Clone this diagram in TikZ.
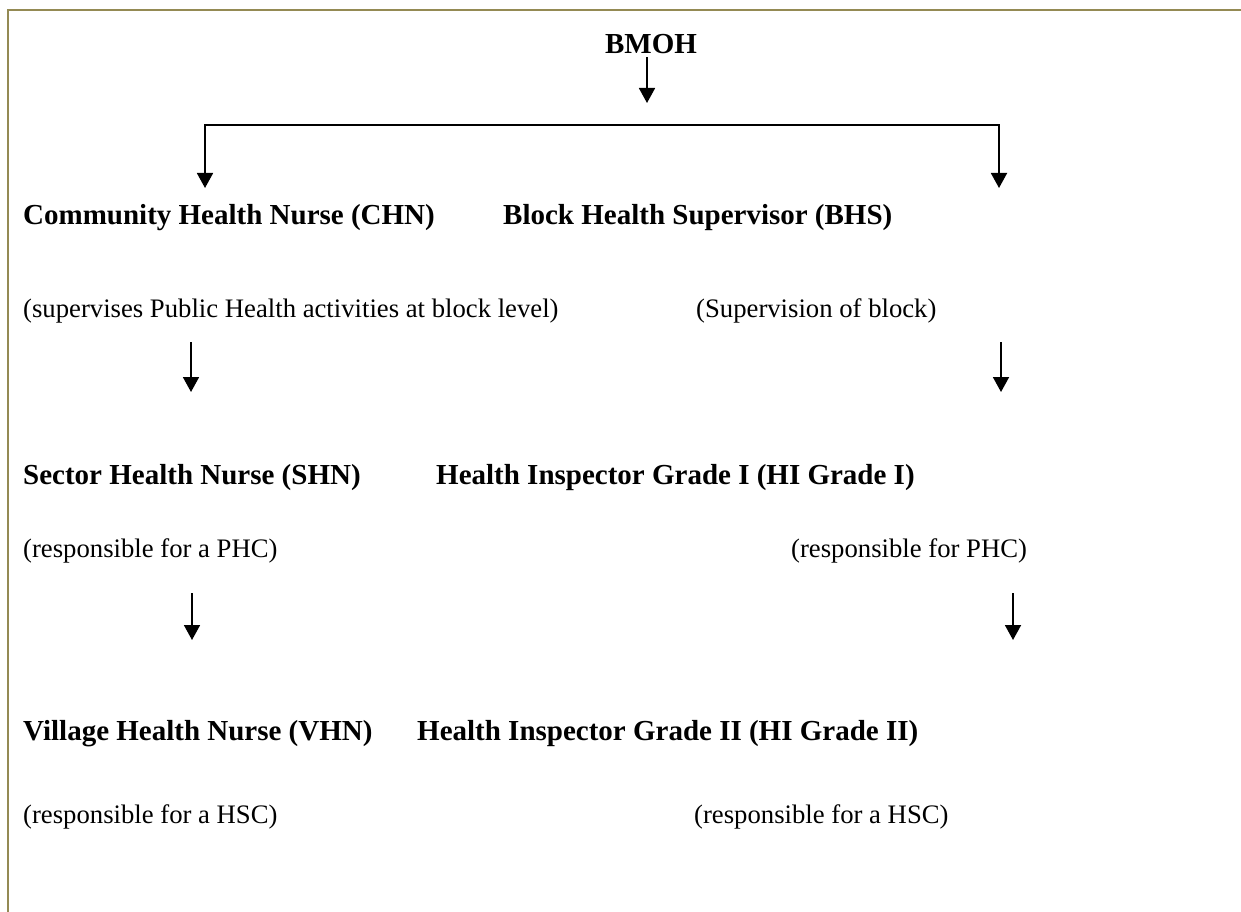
\documentclass[tikz,border=0pt]{standalone}
\usepackage{fontspec}
\setmainfont{Liberation Serif}
\usetikzlibrary{arrows.meta}

\definecolor{frameolive}{HTML}{948A54}

\tikzset{
  head/.style={anchor=base west, inner sep=0pt, font=\fontsize{29}{29}\selectfont\bfseries},
  note/.style={anchor=base west, inner sep=0pt, font=\fontsize{26.7}{26.7}\selectfont},
  link/.style={line width=1.8pt, -{Triangle[width=16pt,length=15pt]}},
  frame/.style={draw=frameolive, line width=2pt}
}

\begin{document}
\begin{tikzpicture}[x=1pt, y=-1pt]
  \useasboundingbox (0,0) rectangle (1241,912);

  % page frame (top and left rules)
  \draw[frame] (1241,10) -- (8,10) -- (8,912);

  % top of the hierarchy
  \node[head, anchor=base] (bmoh) at (651,54) {BMOH};

  % level 1
  \node[head] (chn) at (23,224) {Community Health Nurse (CHN)};
  \node[head] (bhs) at (503,224) {Block Health Supervisor (BHS)};
  \node[note] (chnd) at (23,317) {(supervises Public Health activities at block level)};
  \node[note] (bhsd) at (696,317) {(Supervision of block)};

  % level 2
  \node[head] (shn) at (23,484) {Sector Health Nurse (SHN)};
  \node[head] (hi1) at (436,484) {Health Inspector Grade I (HI Grade I)};
  \node[note] (shnd) at (23,557) {(responsible for a PHC)};
  \node[note] (hi1d) at (791,557) {(responsible for PHC)};

  % level 3
  \node[head] (vhn) at (23,740) {Village Health Nurse (VHN)};
  \node[head] (hi2) at (417,740) {Health Inspector Grade II (HI Grade II)};
  \node[note] (vhnd) at (23,823) {(responsible for a HSC)};
  \node[note] (hi2d) at (694,823) {(responsible for a HSC)};

  % connector end points
  \coordinate (bmohS) at (647,57);
  \coordinate (bmohE) at (647,103);
  \coordinate (barL) at (205,125);
  \coordinate (barR) at (999,125);
  \coordinate (tipL) at (205,188);
  \coordinate (tipR) at (999,188);
  \coordinate (a1s) at (191,342);
  \coordinate (a1e) at (191,392);
  \coordinate (b1s) at (1001,342);
  \coordinate (b1e) at (1001,392);
  \coordinate (a2s) at (192,593);
  \coordinate (a2e) at (192,640);
  \coordinate (b2s) at (1013,593);
  \coordinate (b2e) at (1013,640);

  % connectors
  \draw[link] (bmohS) -- (bmohE);
  \draw[link, {Triangle[width=16pt,length=15pt]}-{Triangle[width=16pt,length=15pt]}]
    (tipL) -- (barL) -- (barR) -- (tipR);
  \draw[link] (a1s) -- (a1e);
  \draw[link] (b1s) -- (b1e);
  \draw[link] (a2s) -- (a2e);
  \draw[link] (b2s) -- (b2e);
\end{tikzpicture}
\end{document}
